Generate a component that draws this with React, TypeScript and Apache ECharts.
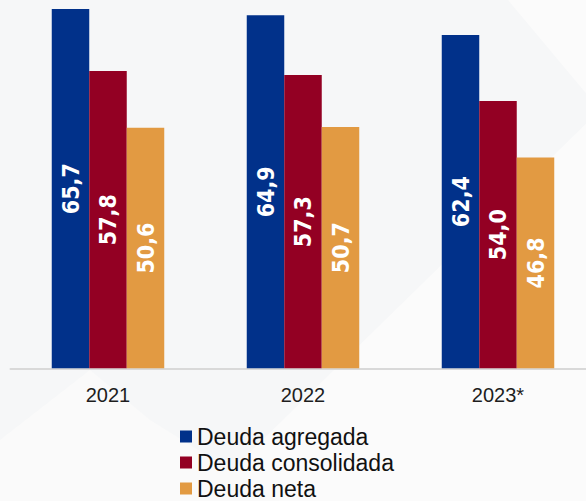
import React, { useEffect, useRef } from "react";
import * as echarts from "echarts";

const categories = ["2021", "2022", "2023*"];
const seriesNames = ["Deuda agregada", "Deuda consolidada", "Deuda neta"];
const deudaAgregada = [65.7, 64.9, 62.4];
const deudaConsolidada = [57.8, 57.3, 54.0];
const deudaNeta = [50.6, 50.7, 46.8];
const colors = ["#01318A", "#930023", "#E29A42"];

export default function App() {
  const ref = useRef<HTMLDivElement>(null);
  useEffect(() => {
    if (!ref.current) return;
    const chart = echarts.init(ref.current, undefined, { renderer: "svg" });
    const seriesData = [deudaAgregada, deudaConsolidada, deudaNeta];
    const fmt = (p: any) => Number(p.value).toFixed(1).replace(".", ",");
    chart.setOption({
      animation: false,
      backgroundColor: "#f6f7f8",
      graphic: [
        {
          type: "polygon",
          silent: true,
          z: -10,
          shape: { points: [[508, 0], [600, 0], [600, 501], [200, 501], [600, 110]] },
          style: { fill: "#fbfbfb" },
        },
        {
          type: "polygon",
          silent: true,
          z: -10,
          shape: { points: [[0, 501], [0, 440], [90, 370], [150, 420], [280, 501]] },
          style: { fill: "#fafafa" },
        },
      ],
      grid: { left: 10.5, width: 585, top: 6.65, height: 361.65, containLabel: false },
      xAxis: {
        type: "category",
        data: categories,
        axisLine: { show: true, lineStyle: { color: "#d9d9d9", width: 2 } },
        axisTick: { show: false },
        axisLabel: {
          margin: 17,
          fontSize: 20,
          color: "#1e1e1e",
          fontFamily: "Liberation Sans, Arial, sans-serif",
        },
      },
      yAxis: {
        type: "value",
        min: 20,
        max: 66,
        show: false,
        splitLine: { show: false },
      },
      legend: {
        orient: "vertical",
        left: 180,
        top: 425,
        height: 100,
        padding: 0,
        itemWidth: 12,
        itemHeight: 12,
        itemGap: 3,
        icon: "rect",
        data: seriesNames,
        textStyle: {
          fontSize: 23,
          lineHeight: 20,
          color: "#111",
          fontFamily: "Liberation Sans, Arial, sans-serif",
        },
      },
      series: seriesNames.map((name, i) => ({
        name,
        type: "bar",
        data: seriesData[i],
        barWidth: 37.5,
        barGap: "0%",
        itemStyle: { color: colors[i] },
        label: {
          show: true,
          position: "inside",
          rotate: 90,
          color: "#ffffff",
          fontWeight: "bold",
          fontSize: 23,
          fontFamily: "DejaVu Sans Condensed, DejaVu Sans, sans-serif",
          formatter: fmt,
        },
      })),
    });
    return () => chart.dispose();
  }, []);
  return (
    <div style={{ width: 586, height: 501, position: "absolute", left: 0, top: 0, overflow: "hidden" }}>
      <div ref={ref} style={{ width: 600, height: 501 }} />
    </div>
  );
}
